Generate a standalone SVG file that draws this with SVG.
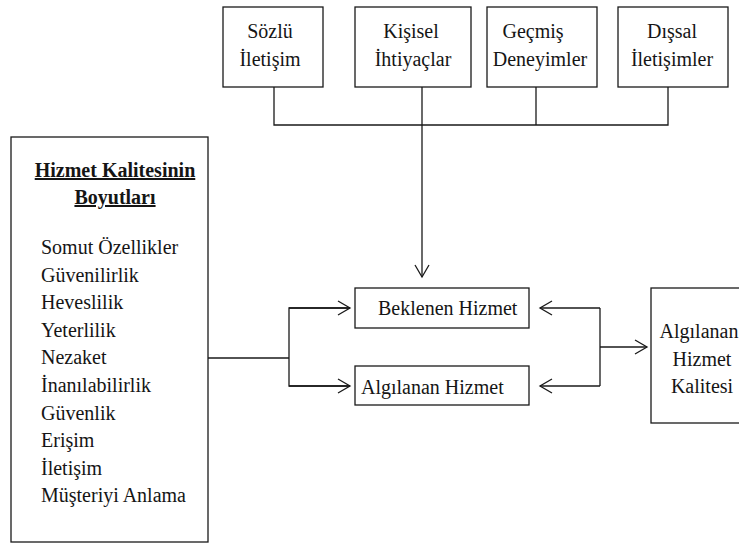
<svg xmlns="http://www.w3.org/2000/svg" width="739" height="544" viewBox="0 0 739 544">
  <style>
    .box { fill: #ffffff; stroke: #1a1a1a; stroke-width: 1.3; }
    .wire { fill: none; stroke: #1a1a1a; stroke-width: 1.3; }
    text { font-family: 'Liberation Serif', 'Times New Roman', serif; font-size: 20px; fill: #151515; }
    .mid { text-anchor: middle; }
    .head { font-weight: bold; text-decoration: underline; }
  </style>
  <defs>
    <marker id="arrow" markerUnits="userSpaceOnUse" markerWidth="16" markerHeight="18" refX="13" refY="8" orient="auto">
      <path d="M1,1 L13,8 L1,15" fill="none" stroke="#1a1a1a" stroke-width="1.3"/>
    </marker>
  </defs>
  <rect width="739" height="544" fill="#ffffff"/>

  <!-- connectors -->
  <g id="connectors">
    <!-- four sources merge into one feed -->
    <path class="wire" d="M274,87 V125 H668 V87"/>
    <path class="wire" d="M536,87 V125"/>
    <path class="wire" d="M422,87 V277" marker-end="url(#arrow)"/>
    <!-- dimensions feed both services -->
    <path class="wire" d="M208,358 H289"/>
    <path class="wire" d="M350,308 H289 V386 H350"/>
    <path class="wire" d="M289,308 H350" marker-end="url(#arrow)"/>
    <path class="wire" d="M289,386 H350" marker-end="url(#arrow)"/>
    <!-- comparison bracket -->
    <path class="wire" d="M600,308 V386"/>
    <path class="wire" d="M600,308 H540" marker-end="url(#arrow)"/>
    <path class="wire" d="M600,386 H540" marker-end="url(#arrow)"/>
    <path class="wire" d="M600,347 H647" marker-end="url(#arrow)"/>
  </g>

  <g id="sozlu-iletisim">
    <rect class="box" x="223" y="7" width="100" height="80"/>
    <text class="mid" x="270" y="38">Sözlü</text>
    <text class="mid" x="270" y="66">İletişim</text>
  </g>

  <g id="kisisel-ihtiyaclar">
    <rect class="box" x="355" y="7" width="116" height="80"/>
    <text class="mid" x="411" y="38">Kişisel</text>
    <text class="mid" x="413" y="66">İhtiyaçlar</text>
  </g>

  <g id="gecmis-deneyimler">
    <rect class="box" x="487" y="7" width="110" height="80"/>
    <text class="mid" x="533" y="38">Geçmiş</text>
    <text class="mid" x="540" y="66">Deneyimler</text>
  </g>

  <g id="dissal-iletisimler">
    <rect class="box" x="618" y="7" width="110" height="80"/>
    <text class="mid" x="672" y="38">Dışsal</text>
    <text class="mid" x="672" y="66">İletişimler</text>
  </g>

  <g id="boyutlar">
    <rect class="box" x="11" y="137" width="197" height="405"/>
    <text class="mid head" x="115" y="177">Hizmet Kalitesinin</text>
    <text class="mid head" x="115" y="204">Boyutları</text>
    <text x="41" y="254">Somut Özellikler</text>
    <text x="41" y="281.6">Güvenilirlik</text>
    <text x="41" y="309.2">Heveslilik</text>
    <text x="41" y="336.8">Yeterlilik</text>
    <text x="41" y="364.4">Nezaket</text>
    <text x="41" y="392">İnanılabilirlik</text>
    <text x="41" y="419.6">Güvenlik</text>
    <text x="41" y="447.2">Erişim</text>
    <text x="41" y="474.8">İletişim</text>
    <text x="41" y="502.4">Müşteriyi Anlama</text>
  </g>

  <g id="beklenen-hizmet">
    <rect class="box" x="355" y="288" width="174" height="40"/>
    <text x="378" y="315">Beklenen Hizmet</text>
  </g>

  <g id="algilanan-hizmet">
    <rect class="box" x="355" y="366" width="174" height="39"/>
    <text x="361" y="394">Algılanan Hizmet</text>
  </g>

  <g id="algilanan-hizmet-kalitesi">
    <rect class="box" x="651" y="288" width="108" height="135"/>
    <text class="mid" x="699" y="338">Algılanan</text>
    <text class="mid" x="702" y="366">Hizmet</text>
    <text class="mid" x="702" y="393">Kalitesi</text>
  </g>
</svg>
